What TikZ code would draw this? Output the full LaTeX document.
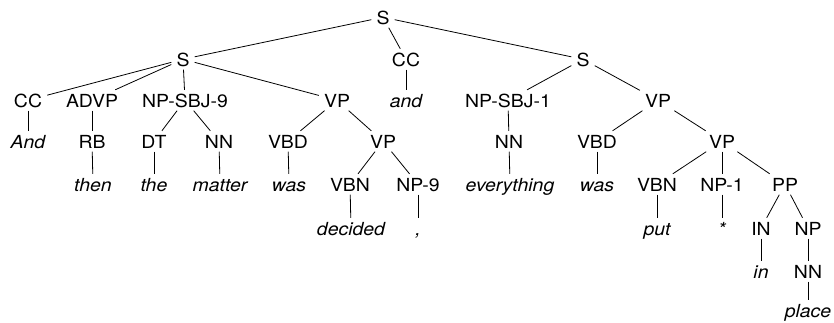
\documentclass[tikz,border=0pt]{standalone}
\usepackage{fontspec}
\setmainfont[FakeStretch=1.08]{TeX Gyre Heros}
\begin{document}
\begin{tikzpicture}[x=1pt,y=-1pt,
  cat/.style={anchor=base, font=\fontsize{18}{20}\selectfont,
    text height=14pt, text depth=0.5pt, inner xsep=5pt, inner ysep=3pt},
  word/.style={cat, font=\fontsize{18}{20}\selectfont\itshape},
  edge/.style={draw=black, line width=0.8pt}]
\useasboundingbox (0,0) rectangle (834,322);

% root and first-level constituents
\node[cat] (s0) at (383,24) {S};
\node[cat] (s1) at (183,66) {S};
\node[cat] (cc1) at (406,66) {CC};
\node[cat] (s2) at (583,66) {S};

% second level
\node[cat] (cc2) at (28,107) {CC};
\node[cat] (advp) at (92,107) {ADVP};
\node[cat] (npsbjA) at (185,107) {NP-SBJ-9};
\node[cat] (vp1) at (337,107) {VP};
\node[word] (and) at (406,107) {and};
\node[cat] (npsbjB) at (508,107) {NP-SBJ-1};
\node[cat] (vp3) at (658,107) {VP};

% third level
\node[word] (And) at (28,148) {And};
\node[cat] (rb) at (92,148) {RB};
\node[cat] (dt) at (154,148) {DT};
\node[cat] (nnA) at (219,148) {NN};
\node[cat] (vbdA) at (288,148) {VBD};
\node[cat] (vp2) at (383,148) {VP};
\node[cat] (nnB) at (509,148) {NN};
\node[cat] (vbdB) at (597,148) {VBD};
\node[cat] (vp4) at (722,148) {VP};

% fourth level
\node[word] (then) at (93,191) {then};
\node[word] (the) at (154,191) {the};
\node[word] (matter) at (220,191) {matter};
\node[word] (wasA) at (289,191) {was};
\node[cat] (vbnA) at (350,191) {VBN};
\node[cat] (np9) at (418,191) {NP-9};
\node[word] (everything) at (510,191) {everything};
\node[word] (wasB) at (597,191) {was};
\node[cat] (vbnB) at (657,191) {VBN};
\node[cat] (np1) at (722,191) {NP-1};
\node[cat] (pp) at (785,191) {PP};

% fifth level and below
\node[word] (decided) at (351,235) {decided};
\node[word] (comma) at (418,235) {,};
\node[word] (put) at (657,235) {put};
\node[word] (star) at (722,235) {*};
\node[cat] (inP) at (761,235) {IN};
\node[cat] (npC) at (808,235) {NP};
\node[word] (inW) at (761,278) {in};
\node[cat] (nnC) at (808,278) {NN};
\node[word] (place) at (808,317) {place};

\foreach \p/\c in {s0/s1, s0/cc1, s0/s2,
    s1/cc2, s1/advp, s1/npsbjA, s1/vp1, cc1/and,
    s2/npsbjB, s2/vp3,
    cc2/And, advp/rb, npsbjA/dt, npsbjA/nnA, vp1/vbdA, vp1/vp2,
    npsbjB/nnB, vp3/vbdB, vp3/vp4,
    rb/then, dt/the, nnA/matter, vbdA/wasA, vp2/vbnA, vp2/np9,
    nnB/everything, vbdB/wasB, vp4/vbnB, vp4/np1, vp4/pp,
    vbnA/decided, np9/comma, vbnB/put, np1/star, pp/inP, pp/npC,
    inP/inW, npC/nnC, nnC/place}
  \draw[edge] (\p) -- (\c);
\end{tikzpicture}
\end{document}
